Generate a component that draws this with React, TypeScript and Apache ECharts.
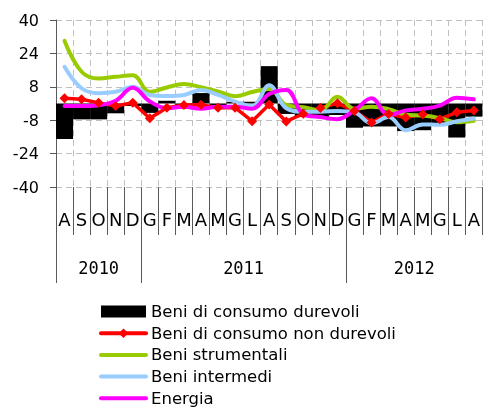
import React, { useEffect, useRef } from 'react';
import * as echarts from 'echarts';

const months = ['A', 'S', 'O', 'N', 'D', 'G', 'F', 'M', 'A', 'M', 'G', 'L', 'A', 'S', 'O', 'N', 'D', 'G', 'F', 'M', 'A', 'M', 'G', 'L', 'A'];
const yearLabels = ['2010', '2011', '2012'];
const yearStarts = [0, 5, 17];
const yearEnds = [5, 17, 25];
const yTicks = [-40, -24, -8, 8, 24, 40];

const seriesNames = [
  'Beni di consumo durevoli',
  'Beni di consumo non durevoli',
  'Beni strumentali',
  'Beni intermedi',
  'Energia',
];

const durevoli = [-17, -7.6, -7.6, -4.7, -1.2, -4.5, 1.3, -2.5, 5, -1, 0.8, 0.8, 17.9, -5, -6.5, -6.5, -5.5, -11.6, -11, -11, -13.2, -12.8, -10, -16.3, -6.3];
const nonDurevoli = [2.5, 2.0, 0.3, -1.2, 0.4, -7.1, -2.0, -0.7, -0.6, -2.0, -2.0, -8.5, -0.5, -8.6, -4.9, -2.1, 0.1, -3.6, -9.1, -5.0, -6.7, -5.2, -7.5, -4.2, -3.3];
const strumentali = [30, 15.2, 12, 12.8, 13.5, 5.6, 7.7, 9.3, 7.8, 5.8, 3.5, 5.5, 7, -0.7, -1.8, -3.3, 3.2, -2.5, -1.5, -2.7, -5.3, -5.8, -7, -9, -8.3];
const intermedi = [17.6, 7.3, 4.9, 5.6, 8, 4.1, 3.6, 4.1, 6.5, 4.1, 0.9, -1.3, 8.7, -2.3, -3.9, -3.9, -3.6, -4.3, -9.5, -6.5, -12.8, -10, -10.2, -8.5, -7.2];
const energia = [-1.2, -1.2, -0.8, 1.3, 7.5, 1, -2.2, -1.6, -2.5, -1.5, -1.5, -2.5, 4.5, 6.5, -5, -6.5, -7.5, -3.3, 2.5, -5.5, -3.3, -2.5, -1, 2.8, 2];

const colors = ['#000000', '#ff0000', '#99cc00', '#99ccff', '#ff00ff'];

export default function App() {
  const ref = useRef<HTMLDivElement>(null);
  useEffect(() => {
    if (!ref.current) return;
    const chart = echarts.init(ref.current, null, { renderer: 'svg' });
    const axisColor = '#595959';
    const gridColor = '#c0c0c0';
    const font = 'DejaVu Sans';
    const yearCenters = yearStarts.map((s, i) => (s + yearEnds[i]) / 2);
    const smoothLine = (name: string, data: number[], color: string) => ({
      name,
      type: 'line',
      data,
      smooth: 0.4,
      symbol: 'none',
      lineStyle: { color, width: 4, cap: 'round', join: 'round' },
      itemStyle: { color },
      xAxisIndex: 0,
      z: 3,
    });
    chart.setOption({
      animation: false,
      grid: { left: 56, top: 20, right: 0, bottom: 220 },
      legend: {
        orient: 'vertical',
        left: 99,
        top: 302,
        height: 140,
        padding: 0,
        itemWidth: 45,
        itemHeight: 12,
        itemGap: 2.7,
        textStyle: { fontSize: 16.5, fontFamily: font, color: '#000', lineHeight: 19 },
        lineStyle: { width: 4, cap: 'round' },
        data: [
          { name: seriesNames[0], icon: 'rect' },
          { name: seriesNames[1] },
          { name: seriesNames[2], itemStyle: { opacity: 0 } },
          { name: seriesNames[3], itemStyle: { opacity: 0 } },
          { name: seriesNames[4], itemStyle: { opacity: 0 } },
        ],
      },
      xAxis: [
        {
          type: 'category',
          data: months,
          boundaryGap: true,
          position: 'bottom',
          axisLine: { show: false, onZero: false },
          axisTick: { show: true, interval: 0, length: 48, lineStyle: { color: axisColor, width: 1 } },
          axisLabel: { interval: 0, margin: 23, fontSize: 18, fontFamily: font, color: '#000' },
          splitLine: { show: true, interval: 0, lineStyle: { type: [6, 4], color: gridColor, width: 1 } },
        },
        {
          type: 'value',
          min: 0,
          max: 25,
          position: 'bottom',
          axisLine: { show: false, onZero: false },
          axisTick: { show: true, customValues: yearStarts, length: 96, lineStyle: { color: axisColor, width: 1 } },
          axisLabel: {
            customValues: yearCenters,
            margin: 72,
            fontSize: 17,
            fontFamily: 'DejaVu Sans Mono',
            color: '#000',
            formatter: (v: number) => {
              const idx = yearCenters.indexOf(v);
              return idx >= 0 ? yearLabels[idx] : '';
            },
          },
          splitLine: { show: false },
        },
      ],
      yAxis: {
        type: 'value',
        min: -40,
        max: 40,
        axisLine: { show: true, lineStyle: { color: axisColor, width: 1 } },
        axisTick: { show: true, customValues: yTicks, length: 6, lineStyle: { color: axisColor } },
        axisLabel: { customValues: yTicks, margin: 17, fontSize: 16, fontFamily: font, color: '#000' },
        splitLine: { show: true, lineStyle: { type: [6, 4], color: gridColor, width: 1 } },
      },
      series: [
        {
          name: seriesNames[0],
          type: 'bar',
          data: durevoli,
          barCategoryGap: 0,
          barGap: 0,
          itemStyle: { color: colors[0] },
          xAxisIndex: 0,
          z: 2,
        },
        {
          name: seriesNames[1],
          type: 'line',
          data: nonDurevoli,
          smooth: false,
          symbol: 'diamond',
          symbolSize: 10,
          showSymbol: true,
          lineStyle: { color: colors[1], width: 3.5, join: 'round' },
          itemStyle: { color: colors[1] },
          xAxisIndex: 0,
          z: 3,
        },
        smoothLine(seriesNames[2], strumentali, colors[2]),
        smoothLine(seriesNames[3], intermedi, colors[3]),
        smoothLine(seriesNames[4], energia, colors[4]),
      ],
    });
    return () => chart.dispose();
  }, []);
  return <div ref={ref} style={{ position: 'fixed', left: 0, top: 0, width: 483, height: 407 }} />;
}
